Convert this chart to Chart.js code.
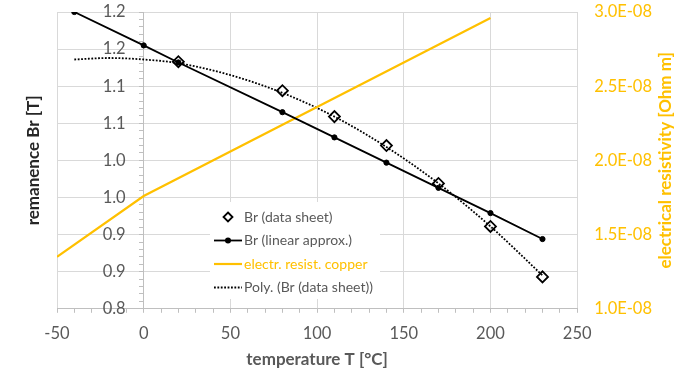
<!DOCTYPE html>
<html>
<head>
<meta charset="utf-8">
<script src="https://cdn.jsdelivr.net/npm/chart.js@4.4.1/dist/chart.umd.min.js"></script>
<style>
  html, body { margin: 0; padding: 0; background: #fff; }
</style>
</head>
<body>
<canvas id="chart" width="683" height="372"></canvas>
<script>
// values
const sheetTemps = [20, 80, 110, 140, 170, 200, 230];
const sheetBr = [1.133, 1.094, 1.059, 1.020, 0.969, 0.911, 0.843];

const linearTemps = [-40, 0, 20, 80, 110, 140, 170, 200, 230];
const linearBr = [1.200, 1.155, 1.132, 1.065, 1.031, 0.997, 0.963, 0.929, 0.894];

const copperTemps = [-50, 0, 200];
const copperRho = [1.35e-8, 1.76e-8, 2.96e-8];

const polyTemps = [-40, -20, 0, 20, 50, 80, 110, 140, 170, 200, 230];
const polyBr = [1.136, 1.138, 1.136, 1.131, 1.115, 1.091, 1.059, 1.018, 0.969, 0.911, 0.845];

const tempTickLabels = ['-50', '0', '50', '100', '150', '200', '250'];
const brTickLabels = ['0.8', '0.9', '0.9', '1.0', '1.0', '1.1', '1.1', '1.2', '1.2'];
const rhoTickLabels = ['1.0E-08', '1.5E-08', '2.0E-08', '2.5E-08', '3.0E-08'];

const seriesNames = ['Br (data sheet)', 'Br (linear approx.)', 'electr. resist. copper', 'Poly. (Br (data sheet))'];
const leftTitle = 'remanence Br [T]';
const rightTitle = 'electrical resistivity [Ohm m]';
const bottomTitle = 'temperature T [°C]';

const GOLD = '#FFC000';
const GREY = '#595959';
const FONT = 'Lato, "Open Sans", sans-serif';
const TICK_FONT = { family: FONT, size: 16.5 };

const toPoints = (xs, ys) => xs.map((x, i) => ({ x, y: ys[i] }));

// legend drawn inside the plot, like the Excel one
const insideLegend = {
	id: 'insideLegend',
	beforeDatasetsDraw(chart) {
		const { ctx } = chart;
		const y0 = 217, step = 23.5;
		ctx.save();
		ctx.fillStyle = '#fff';
		ctx.fillRect(210, 202, 170, 97);
		ctx.font = '14px ' + FONT;
		ctx.textBaseline = 'middle';
		chart.data.datasets.forEach((ds, i) => {
			const y = y0 + i * step;
			ctx.strokeStyle = ds.borderColor;
			ctx.setLineDash(ds.borderDash || []);
			if (i === 0) {
				ctx.lineWidth = 1.8;
				ctx.beginPath();
				ctx.moveTo(228, y - 4.5);
				ctx.lineTo(232.5, y);
				ctx.lineTo(228, y + 4.5);
				ctx.lineTo(223.5, y);
				ctx.closePath();
				ctx.stroke();
			} else {
				ctx.lineWidth = ds.borderWidth;
				ctx.beginPath();
				ctx.moveTo(214, y);
				ctx.lineTo(242, y);
				ctx.stroke();
				if (ds.pointRadius > 0) {
					ctx.fillStyle = '#000';
					ctx.beginPath();
					ctx.arc(228, y, 3, 0, Math.PI * 2);
					ctx.fill();
				}
			}
			ctx.setLineDash([]);
			ctx.fillStyle = i === 2 ? GOLD : GREY;
			ctx.fillText(ds.label, 244, y);
		});
		ctx.restore();
	},
};

// rotated axis titles (Excel reads both bottom-to-top)
const sideTitles = {
	id: 'sideTitles',
	afterDraw(chart) {
		const { ctx, chartArea } = chart;
		const cy = (chartArea.top + chartArea.bottom) / 2;
		ctx.save();
		ctx.font = 'bold 17px ' + FONT;
		ctx.textAlign = 'center';
		ctx.textBaseline = 'middle';
		[[34, leftTitle, '#262626'], [666, rightTitle, GOLD]].forEach(([x, text, color]) => {
			ctx.save();
			ctx.translate(x, cy);
			ctx.rotate(-Math.PI / 2);
			ctx.fillStyle = color;
			ctx.fillText(text, 0, 0);
			ctx.restore();
		});
		ctx.restore();
	},
};

// the y axis crosses at x = 0; chart.js leaves out tick length + padding there, so add it
const crossAxisLabels = {
	id: 'crossAxisLabels',
	beforeDraw(chart) {
		const s = chart.scales.y;
		const items = s.getLabelItems();
		if (items._shifted) return;
		const gap = s.options.grid.tickLength + s.options.ticks.padding;
		items.forEach((it) => { it.options.translation[0] -= gap; });
		items._shifted = true;
	},
};

const isMajor = (v) => Math.round(v * 100) % 5 === 0;
const noEdgePadding = (s) => { s.paddingTop = 0; s.paddingBottom = 0; };

new Chart(document.getElementById('chart'), {
	type: 'line',
	data: {
		datasets: [
			{
				label: seriesNames[0],
				data: toPoints(sheetTemps, sheetBr),
				showLine: false,
				yAxisID: 'y',
				pointStyle: 'rectRot',
				pointRadius: 5.5,
				pointBorderWidth: 1.8,
				borderColor: '#000',
				pointBackgroundColor: 'rgba(0,0,0,0)',
			},
			{
				label: seriesNames[1],
				data: toPoints(linearTemps, linearBr),
				yAxisID: 'y',
				borderColor: '#000',
				borderWidth: 1.8,
				pointRadius: 2.6,
				pointBorderWidth: 1,
				pointBackgroundColor: '#000',
			},
			{
				label: seriesNames[2],
				data: toPoints(copperTemps, copperRho),
				yAxisID: 'y2',
				borderColor: GOLD,
				borderWidth: 2.2,
				pointRadius: 0,
			},
			{
				label: seriesNames[3],
				data: toPoints(polyTemps, polyBr),
				yAxisID: 'y',
				borderColor: '#000',
				borderWidth: 1.8,
				borderDash: [1.8, 1.6],
				cubicInterpolationMode: 'monotone',
				pointRadius: 0,
			},
		],
	},
	options: {
		responsive: false,
		animation: false,
		devicePixelRatio: 1,
		layout: { padding: { left: 57, right: 31, top: 12, bottom: 0 } },
		plugins: { legend: { display: false }, tooltip: { enabled: false } },
		scales: {
			x: {
				type: 'linear',
				position: 'bottom',
				min: -50,
				max: 250,
				afterFit: (s) => { s.height -= s.options.ticks.padding; },
				ticks: {
					stepSize: 10,
					autoSkip: false,
					maxRotation: 0,
					padding: 11,
					color: GREY,
					font: TICK_FONT,
					callback: (v) => (v % 50 === 0 ? tempTickLabels[(v + 50) / 50] : ''),
				},
				grid: {
					color: (c) => (c.tick && c.tick.value % 50 === 0 ? '#d9d9d9' : 'rgba(0,0,0,0)'),
					tickColor: '#bfbfbf',
					tickLength: 4,
				},
				border: { color: '#bfbfbf' },
				title: {
					display: true,
					text: bottomTitle,
					color: GREY,
					font: { family: FONT, size: 17, weight: 'bold' },
					padding: { top: 6, bottom: 2 },
				},
			},
			y: {
				type: 'linear',
				position: { x: 0 },
				min: 0.8,
				max: 1.2,
				afterFit: noEdgePadding,
				ticks: {
					stepSize: 0.01,
					autoSkip: false,
					padding: 14,
					color: GREY,
					font: TICK_FONT,
					callback: (v) => (isMajor(v) ? brTickLabels[Math.round((v - 0.8) * 20)] : ''),
				},
				grid: {
					color: (c) => (c.tick && isMajor(c.tick.value) ? '#d9d9d9' : 'rgba(0,0,0,0)'),
					tickColor: '#bfbfbf',
					tickLength: 4,
				},
				border: { color: '#bfbfbf' },
			},
			y2: {
				type: 'linear',
				position: 'right',
				min: 1e-8,
				max: 3e-8,
				afterFit: (s) => { noEdgePadding(s); s.width -= s.options.ticks.padding; },
				ticks: {
					stepSize: 0.5e-8,
					padding: 17,
					color: GOLD,
					font: TICK_FONT,
					callback: (v) => rhoTickLabels[Math.round((v - 1e-8) / 0.5e-8)],
				},
				grid: { display: false, drawTicks: false },
				border: { display: false },
			},
		},
	},
	plugins: [insideLegend, sideTitles, crossAxisLabels],
});
</script>
</body>
</html>
